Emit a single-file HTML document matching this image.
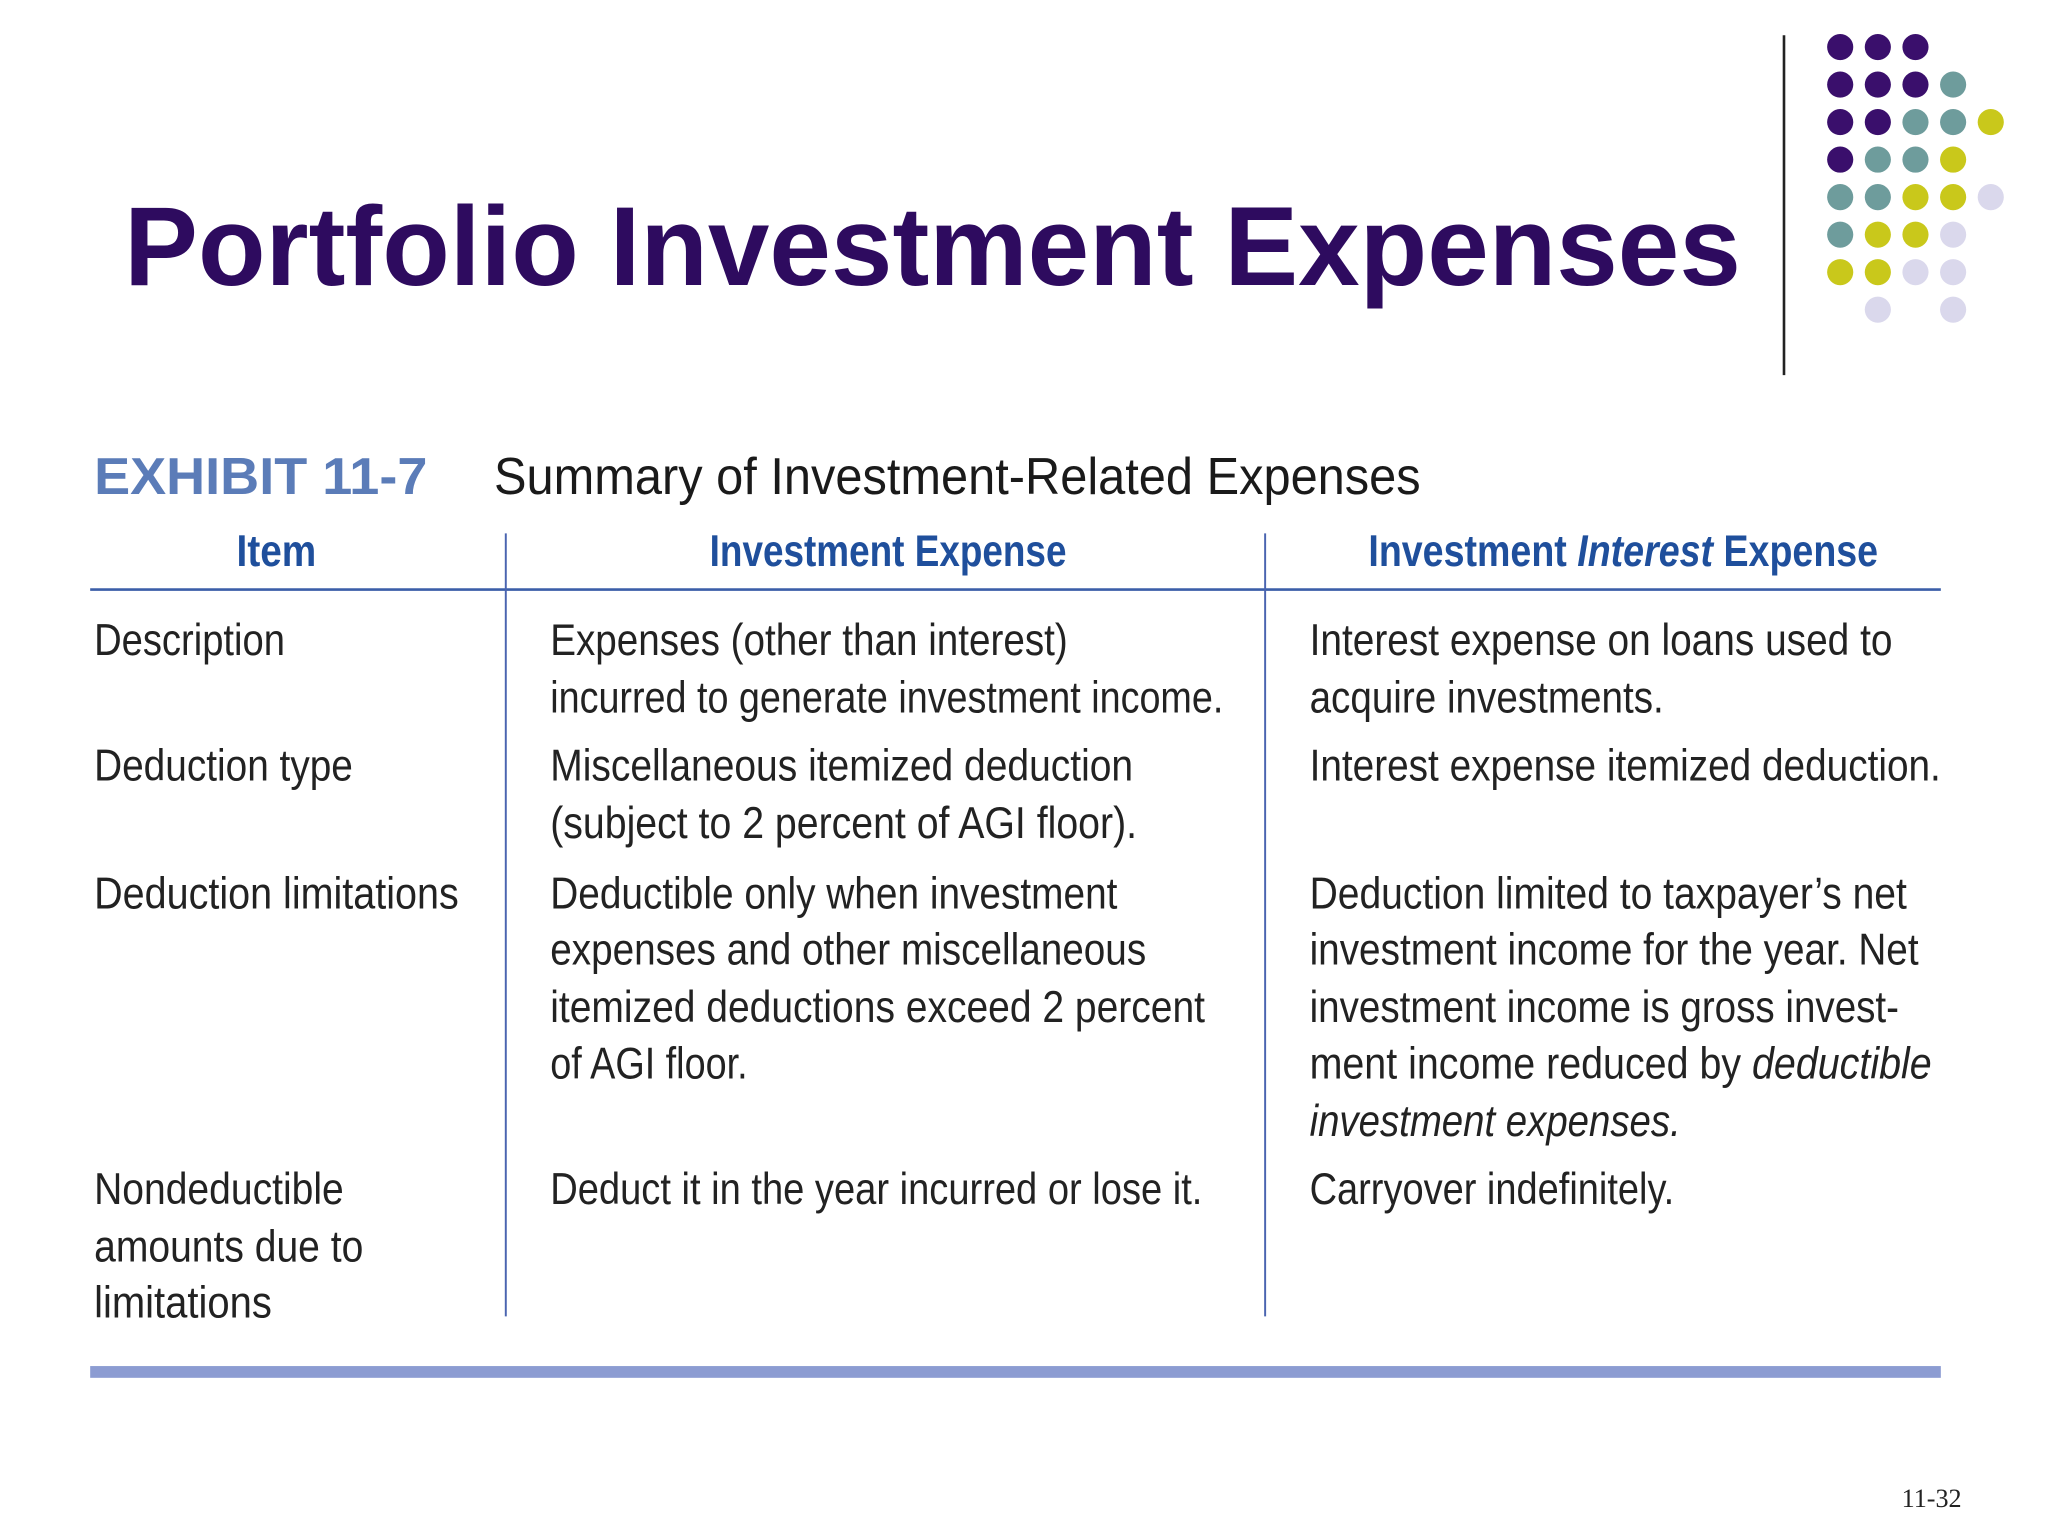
<!DOCTYPE html>
<html><head><meta charset="utf-8"><style>html,body{margin:0;padding:0;background:#fff;width:2048px;height:1536px;overflow:hidden}svg{display:block}</style></head>
<body>
<svg width="2048" height="1536" viewBox="0 0 1567 1175" preserveAspectRatio="none" xmlns="http://www.w3.org/2000/svg" font-family="Liberation Sans, sans-serif">
<rect width="1567" height="1175" fill="#fff"/>
<text x="95" y="218" font-size="86" font-weight="bold" fill="#2e0b5f" textLength="1237" lengthAdjust="spacingAndGlyphs">Portfolio Investment Expenses</text>
<line x1="1365" y1="27" x2="1365" y2="287" stroke="#222" stroke-width="2"/>
<g id="dots"></g>
<text x="72" y="378" font-size="40" font-weight="bold" fill="#5b7cb8" textLength="255" lengthAdjust="spacingAndGlyphs">EXHIBIT 11-7</text>
<text x="378" y="378" font-size="40" fill="#1a1a1a" textLength="709" lengthAdjust="spacingAndGlyphs">Summary of Investment-Related Expenses</text>
<g font-weight="bold" fill="#1f4f9c" font-size="34">
<text x="181" y="433" textLength="61" lengthAdjust="spacingAndGlyphs">Item</text>
<text x="543" y="433" textLength="273" lengthAdjust="spacingAndGlyphs">Investment Expense</text>
<text x="1047" y="433" textLength="390" lengthAdjust="spacingAndGlyphs">Investment <tspan font-style="italic">Interest</tspan> Expense</text>
</g>
<line x1="69" y1="451" x2="1485" y2="451" stroke="#3b5ea8" stroke-width="2"/>
<line x1="387" y1="408" x2="387" y2="1007" stroke="#4a64b0" stroke-width="1.5"/>
<line x1="968" y1="408" x2="968" y2="1007" stroke="#4a64b0" stroke-width="1.5"/>
<rect x="69" y="1045" width="1416" height="9" fill="#8c9cd2"/>
<g fill="#222" font-size="34">
<text x="72" y="501" textLength="146" lengthAdjust="spacingAndGlyphs">Description</text>
<text x="72" y="597" textLength="198" lengthAdjust="spacingAndGlyphs">Deduction type</text>
<text x="72" y="695" textLength="279" lengthAdjust="spacingAndGlyphs">Deduction limitations</text>
<text x="72" y="921" textLength="191" lengthAdjust="spacingAndGlyphs">Nondeductible</text>
<text x="72" y="965" textLength="206" lengthAdjust="spacingAndGlyphs">amounts due to</text>
<text x="72" y="1008" textLength="136" lengthAdjust="spacingAndGlyphs">limitations</text>

<text x="421" y="501" textLength="396" lengthAdjust="spacingAndGlyphs">Expenses (other than interest)</text>
<text x="421" y="545" textLength="515" lengthAdjust="spacingAndGlyphs">incurred to generate investment income.</text>
<text x="421" y="597" textLength="446" lengthAdjust="spacingAndGlyphs">Miscellaneous itemized deduction</text>
<text x="421" y="641" textLength="449" lengthAdjust="spacingAndGlyphs">(subject to 2 percent of AGI floor).</text>
<text x="421" y="695" textLength="434" lengthAdjust="spacingAndGlyphs">Deductible only when investment</text>
<text x="421" y="738" textLength="456" lengthAdjust="spacingAndGlyphs">expenses and other miscellaneous</text>
<text x="421" y="782" textLength="501" lengthAdjust="spacingAndGlyphs">itemized deductions exceed 2 percent</text>
<text x="421" y="825" textLength="151" lengthAdjust="spacingAndGlyphs">of AGI floor.</text>
<text x="421" y="921" textLength="499" lengthAdjust="spacingAndGlyphs">Deduct it in the year incurred or lose it.</text>

<text x="1002" y="501" textLength="446" lengthAdjust="spacingAndGlyphs">Interest expense on loans used to</text>
<text x="1002" y="545" textLength="271" lengthAdjust="spacingAndGlyphs">acquire investments.</text>
<text x="1002" y="597" textLength="483" lengthAdjust="spacingAndGlyphs">Interest expense itemized deduction.</text>
<text x="1002" y="695" textLength="457" lengthAdjust="spacingAndGlyphs">Deduction limited to taxpayer’s net</text>
<text x="1002" y="738" textLength="466" lengthAdjust="spacingAndGlyphs">investment income for the year. Net</text>
<text x="1002" y="782" textLength="451" lengthAdjust="spacingAndGlyphs">investment income is gross invest-</text>
<text x="1002" y="825" textLength="476" lengthAdjust="spacingAndGlyphs">ment income reduced by <tspan font-style="italic">deductible</tspan></text>
<text x="1002" y="869" font-style="italic" textLength="284" lengthAdjust="spacingAndGlyphs">investment expenses.</text>
<text x="1002" y="921" textLength="279" lengthAdjust="spacingAndGlyphs">Carryover indefinitely.</text>
</g>
<text x="1455" y="1153" font-family="Liberation Serif, serif" font-size="20" fill="#222">11-32</text>
</svg>
<script>
const dotRows = [
 "PPP..",
 "PPPT.",
 "PPTTY",
 "PTTY.",
 "TTYYL",
 "TYYL.",
 "YYLL.",
 ".L.L."
];
const colors = {P:"#3a0f6c",T:"#6e9c9c",Y:"#c9c81b",L:"#dad8ec"};
const g = document.getElementById('dots');
dotRows.forEach((row, r) => {
  [...row].forEach((c, k) => {
    if (c === '.') return;
    const el = document.createElementNS('http://www.w3.org/2000/svg','circle');
    el.setAttribute('cx', 1408 + k * 28.8);
    el.setAttribute('cy', 36 + r * 28.7);
    el.setAttribute('r', 10);
    el.setAttribute('fill', colors[c]);
    
    
    g.appendChild(el);
  });
});
</script>
</body></html>
